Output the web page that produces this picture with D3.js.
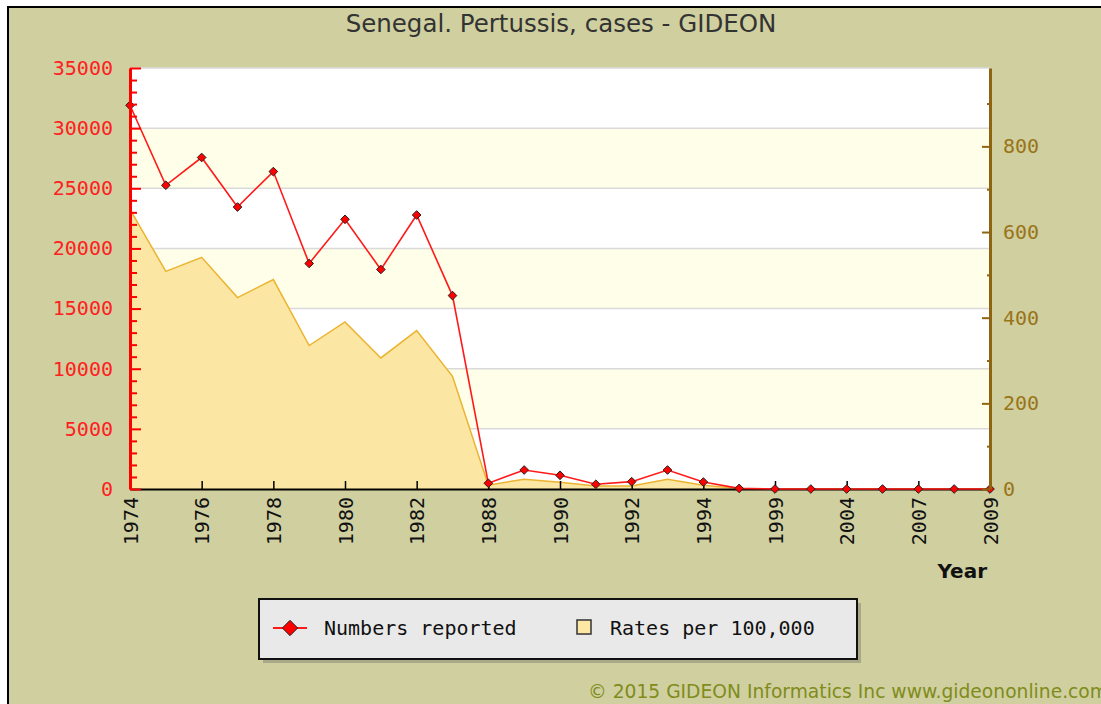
<!DOCTYPE html>
<html>
<head>
<meta charset="utf-8">
<script src="https://cdn.jsdelivr.net/npm/d3@7"></script>
<style>
  body { margin: 0; background: #fff; }
  svg { display: block; }
</style>
</head>
<body>
<div id="chart"></div>
<script>
// data
var years = ["1974","1975","1976","1977","1978","1979","1980","1981","1982","1983",
             "1988","1989","1990","1991","1992","1993","1994","1997","1999","2001",
             "2004","2005","2007","2008","2009"];
var labelYears = ["1974","1976","1978","1980","1982","1988","1990","1992","1994","1999","2004","2007","2009"];
var cases = [31900, 25250, 27560, 23440, 26390, 18750, 22420, 18250, 22780, 16080,
             480, 1580, 1140, 390, 610, 1580, 580, 50, 0, 0,
             0, 0, 0, 0, 0];
var rates = [653, 508, 541, 447, 489, 335, 390, 306, 370, 263,
             9, 23, 16, 7, 7, 23, 9, 1, 0, 0,
             0, 0, 0, 0, 0];
var leftTicks = d3.range(0, 35001, 1000);
var rightTicks = d3.range(0, 901, 100);

var W = 1101, H = 704;
var pLeft = 130, pRight = 990, pTop = 68, pBottom = 489;
var bg = '#cfcfa0';
var mono = '"DejaVu Sans Mono", monospace';
var sans = '"DejaVu Sans", sans-serif';

var svg = d3.select('#chart').append('svg')
    .attr('width', W).attr('height', H);

// outer frame
svg.append('rect')
    .attr('x', 8).attr('y', 7).attr('width', W + 20).attr('height', H + 20)
    .style('fill', bg).style('stroke', '#000').style('stroke-width', 2);

var x = d3.scalePoint().domain(years).range([pLeft, pRight]);
var yL = d3.scaleLinear().domain([0, 35000]).range([pBottom, pTop]);
var yR = d3.scaleLinear().domain([0, 983]).range([pBottom, pTop]);

// plot background with bands
svg.append('rect')
    .attr('x', pLeft).attr('y', pTop).attr('width', pRight - pLeft).attr('height', pBottom - pTop)
    .style('fill', '#fff');
d3.range(5000, 35000, 10000).forEach(function(v) {
    svg.append('rect')
        .attr('x', pLeft).attr('width', pRight - pLeft)
        .attr('y', yL(v + 5000)).attr('height', yL(v) - yL(v + 5000))
        .style('fill', '#fefee9');
});
svg.selectAll('.grid').data(d3.range(5000, 35001, 5000)).enter().append('line')
    .attr('x1', pLeft).attr('x2', pRight)
    .attr('y1', function(d) { return yL(d); }).attr('y2', function(d) { return yL(d); })
    .style('stroke', '#dadada').style('stroke-width', 1.5);

// rates area
var area = d3.area()
    .x(function(d, i) { return x(years[i]); })
    .y0(pBottom)
    .y1(function(d) { return yR(d); });
svg.append('path').datum(rates)
    .attr('d', area)
    .style('fill', '#fbe6a3');
svg.append('path').datum(rates)
    .attr('d', d3.line().x(function(d, i) { return x(years[i]); }).y(function(d) { return yR(d); }))
    .style('fill', 'none').style('stroke', '#ecb330').style('stroke-width', 1.5);

// x axis
var xAxis = svg.append('g')
    .attr('transform', 'translate(0,' + pBottom + ')')
    .call(d3.axisBottom(x).tickValues(labelYears).tickSizeInner(-8).tickSizeOuter(0));
xAxis.select('.domain').style('stroke', '#000').style('stroke-width', 2);
xAxis.selectAll('.tick line').style('stroke', '#000').style('stroke-width', 1.5);
xAxis.selectAll('.tick text')
    .attr('x', -8).attr('y', 7).attr('dy', null)
    .attr('transform', 'rotate(-90)')
    .style('text-anchor', 'end')
    .style('font-family', mono).style('font-size', '20px').style('fill', '#111');

// cases line + markers
var line = d3.line()
    .x(function(d, i) { return x(years[i]); })
    .y(function(d) { return yL(d); });
svg.append('path').datum(cases)
    .attr('d', line)
    .style('fill', 'none').style('stroke', '#ff1a1a').style('stroke-width', 1.6);

var diamond = d3.symbol().type(d3.symbolDiamond2).size(48);
svg.selectAll('.pt').data(cases).enter().append('path')
    .attr('d', diamond)
    .attr('transform', function(d, i) { return 'translate(' + x(years[i]) + ',' + yL(d) + ')'; })
    .style('fill', '#ff0000').style('stroke', '#222').style('stroke-width', 1);

// left axis
var lAxis = svg.append('g')
    .attr('transform', 'translate(' + pLeft + ',0)')
    .call(d3.axisLeft(yL).tickValues(leftTicks).tickSizeInner(-7).tickSizeOuter(0).tickPadding(17)
        .tickFormat(function(d) { return d % 5000 === 0 ? d : ''; }));
lAxis.select('.domain').style('stroke', '#ff0000').style('stroke-width', 3);
lAxis.selectAll('.tick line').style('stroke', '#ff0000').style('stroke-width', 2)
    .attr('x2', function(d) { return d % 5000 === 0 ? 11 : 7; });
lAxis.selectAll('.tick text')
    .style('font-family', mono).style('font-size', '20px').style('fill', '#ff2020');

// right axis
var rAxis = svg.append('g')
    .attr('transform', 'translate(' + pRight + ',0)')
    .call(d3.axisRight(yR).tickValues(rightTicks).tickSizeInner(-3).tickSizeOuter(0).tickPadding(13)
        .tickFormat(function(d) { return d % 200 === 0 ? d : ''; }));
rAxis.select('.domain').style('stroke', '#8f6410').style('stroke-width', 3);
rAxis.selectAll('.tick line').style('stroke', '#8f6410').style('stroke-width', 2)
    .attr('x2', function(d) { return d % 200 === 0 ? -8 : -3; });
rAxis.selectAll('.tick text')
    .style('font-family', mono).style('font-size', '20px').style('fill', '#9a7418');

// titles
svg.append('text')
    .attr('x', 561).attr('y', 32)
    .style('text-anchor', 'middle')
    .style('font-family', sans).style('font-size', '24.5px').style('fill', '#333')
    .text('Senegal. Pertussis, cases - GIDEON');

svg.append('text')
    .attr('x', 987).attr('y', 578)
    .style('text-anchor', 'end')
    .style('font-family', sans).style('font-size', '20px').style('font-weight', 'bold').style('fill', '#111')
    .text('Year');

// legend
var lg = svg.append('g').attr('transform', 'translate(259,599)');
lg.append('rect').attr('x', 4).attr('y', 4).attr('width', 598).attr('height', 60).style('fill', '#a9a98a');
lg.append('rect').attr('width', 598).attr('height', 60)
    .style('fill', '#e9e9e9').style('stroke', '#111').style('stroke-width', 2);
lg.append('line').attr('x1', 14).attr('x2', 48).attr('y1', 29).attr('y2', 29)
    .style('stroke', '#ff1a1a').style('stroke-width', 2);
lg.append('path').attr('d', d3.symbol().type(d3.symbolDiamond2).size(150))
    .attr('transform', 'translate(31,29)')
    .style('fill', '#ff0000').style('stroke', '#222').style('stroke-width', 1);
lg.append('text').attr('x', 65).attr('y', 36)
    .style('font-family', mono).style('font-size', '20px').style('fill', '#111')
    .text('Numbers reported');
lg.append('rect').attr('x', 318).attr('y', 21).attr('width', 14).attr('height', 14)
    .style('fill', '#fce8a4').style('stroke', '#333').style('stroke-width', 1.5);
lg.append('text').attr('x', 351).attr('y', 36)
    .style('font-family', mono).style('font-size', '20px').style('fill', '#111')
    .text('Rates per 100,000');

// footer
svg.append('text')
    .attr('x', 588).attr('y', 698)
    .style('font-family', sans).style('font-size', '18.7px').style('fill', '#7f8c1a')
    .text('\u00a9 2015 GIDEON Informatics Inc www.gideononline.com');
</script>
</body>
</html>
